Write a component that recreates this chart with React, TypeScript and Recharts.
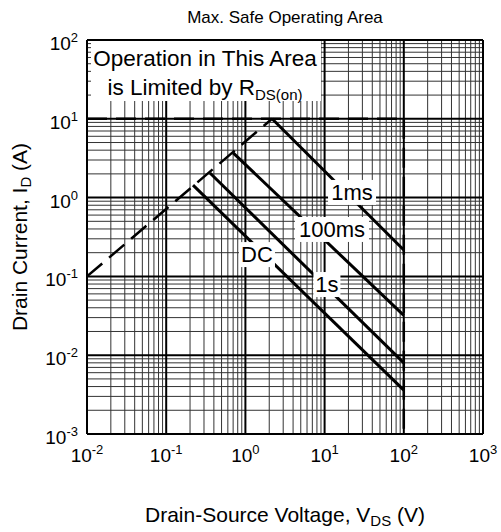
import React from "react";
import { ComposedChart, Line, Scatter, XAxis, YAxis, CartesianGrid, Label } from "recharts";

const FONT = '"Liberation Sans", Arial, Helvetica, sans-serif';

// axis decades
const xTicks = [0.01, 0.1, 1, 10, 100, 1000];
const yTicks = [0.001, 0.01, 0.1, 1, 10, 100];

// limit lines (V in volts, I in amps)
const rdsLimit = [{ v: 0.01, i: 0.1 }, { v: 2.17, i: 10 }];
const currentLimit = [{ v: 0.01, i: 10 }, { v: 100, i: 10 }];
const voltageLimit = [{ v: 100, i: 10 }, { v: 100, i: 0.001 }];

// pulse curves
const pulse1ms = [{ v: 2.17, i: 10 }, { v: 100, i: 0.216 }];
const pulse100ms = [{ v: 0.7, i: 3.7 }, { v: 100, i: 0.032 }];
const pulse1s = [{ v: 0.357, i: 2.05 }, { v: 100, i: 0.008 }];
const pulseDC = [{ v: 0.218, i: 1.44 }, { v: 100, i: 0.0036 }];

// curve labels, anchored in data units
const curveLabels = [
  { v: 22.2, i: 1.18, text: "1ms" },
  { v: 12.4, i: 0.4, text: "100ms" },
  { v: 1.4, i: 0.192, text: "DC" },
  { v: 10.7, i: 0.08, text: "1s" },
];
const noteAnchor = [{ v: 0.309, i: 41.6 }];

const labelBoxWidth: Record<string, number> = { "1ms": 48, "100ms": 74, DC: 36, "1s": 27 };

// minor grid lines at 2..9 of every decade
const minors = (decades: number[]) =>
  decades.slice(0, -1).flatMap((d) => [2, 3, 4, 5, 6, 7, 8, 9].map((m) => d * m));
const minorX = minors(xTicks);
const minorY = minors(yTicks);

const exp = (v: number) => String(Math.round(Math.log10(v)));

function XTick({ x, y, payload }: any) {
  return (
    <text x={x} y={y + 28} textAnchor="middle" fontSize={19} fontFamily={FONT} fill="#000">
      10
      <tspan dy={-8} fontSize={13}>
        {exp(payload.value)}
      </tspan>
    </text>
  );
}

function YTick({ x, y, payload }: any) {
  return (
    <text x={x - 9} y={y + 10} textAnchor="end" fontSize={19} fontFamily={FONT} fill="#000">
      10
      <tspan dy={-8} fontSize={13}>
        {exp(payload.value)}
      </tspan>
    </text>
  );
}

function CurveLabel({ cx, cy, payload }: any) {
  const w = labelBoxWidth[payload.text] ?? 40;
  return (
    <g>
      <rect x={cx - w / 2} y={cy - 12} width={w} height={25} fill="#fff" />
      <text x={cx} y={cy + 8} textAnchor="middle" fontSize={22} fontFamily={FONT} fill="#000">
        {payload.text}
      </text>
    </g>
  );
}

function NoteBox({ cx, cy }: any) {
  return (
    <g>
      <rect x={cx - 114} y={cy - 29} width={230} height={60} fill="#fff" />
      <text x={cx} y={cy - 4} textAnchor="middle" fontSize={22.5} fontFamily={FONT} fill="#000">
        Operation in This Area
      </text>
      <text x={cx} y={cy + 25} textAnchor="middle" fontSize={22.5} fontFamily={FONT} fill="#000">
        is Limited by R
        <tspan dy={5} fontSize={15}>DS(on)</tspan>
      </text>
    </g>
  );
}

const XTitle = ({ viewBox }: any) => (
  <text
    x={viewBox.x + viewBox.width / 2}
    y={viewBox.y + 88}
    textAnchor="middle"
    fontSize={21}
    fontFamily={FONT}
    fill="#000"
  >
    Drain-Source Voltage, V
    <tspan dy={4} fontSize={15}>DS</tspan>
    <tspan dy={-4}> (V)</tspan>
  </text>
);

const YTitle = ({ viewBox }: any) => {
  const cx = viewBox.x + 27;
  const cy = viewBox.y + viewBox.height / 2;
  return (
    <text
      x={cx}
      y={cy}
      transform={`rotate(-90 ${cx} ${cy})`}
      textAnchor="middle"
      fontSize={21}
      fontFamily={FONT}
      fill="#000"
    >
      Drain Current, I
      <tspan dy={4} fontSize={15}>D</tspan>
      <tspan dy={-4}> (A)</tspan>
    </text>
  );
};

const lineProps = {
  dataKey: "i",
  stroke: "#000",
  dot: false,
  activeDot: false,
  isAnimationActive: false,
  type: "linear" as const,
};

export default function App() {
  return (
    <div style={{ position: "absolute", left: 0, top: 0, width: 501, height: 532, background: "#fff" }}>
      <div
        style={{
          position: "absolute",
          left: 87,
          width: 396,
          top: 8,
          textAlign: "center",
          fontFamily: FONT,
          fontSize: 17,
          color: "#000",
        }}
      >
        Max. Safe Operating Area
      </div>
      <ComposedChart width={501} height={532} margin={{ top: 40, right: 18, left: 0, bottom: 0 }}>
        <CartesianGrid verticalValues={minorX} horizontalValues={minorY} stroke="#333" strokeWidth={1} />
        <CartesianGrid verticalValues={xTicks} horizontalValues={yTicks} stroke="#000" strokeWidth={2} />
        <XAxis
          type="number"
          dataKey="v"
          scale="log"
          domain={[0.01, 1000]}
          allowDataOverflow
          ticks={xTicks}
          tick={<XTick />}
          tickSize={0}
          tickMargin={0}
          tickLine={false}
          axisLine={{ stroke: "#000", strokeWidth: 2 }}
          height={98}
          interval={0}
        >
          <Label content={<XTitle />} />
        </XAxis>
        <YAxis
          type="number"
          scale="log"
          domain={[0.001, 100]}
          allowDataOverflow
          ticks={yTicks}
          tick={<YTick />}
          tickSize={0}
          tickMargin={0}
          tickLine={false}
          axisLine={{ stroke: "#000", strokeWidth: 2 }}
          width={87}
          interval={0}
        >
          <Label content={<YTitle />} />
        </YAxis>
        <Line {...lineProps} data={rdsLimit} strokeWidth={2.5} strokeDasharray="20 9" />
        <Line {...lineProps} data={currentLimit} strokeWidth={2.5} strokeDasharray="20 9" />
        <Line {...lineProps} data={voltageLimit} strokeWidth={2.5} strokeDasharray="20 9" />
        <Line {...lineProps} data={pulse1ms} strokeWidth={3} />
        <Line {...lineProps} data={pulse100ms} strokeWidth={3} />
        <Line {...lineProps} data={pulse1s} strokeWidth={3} />
        <Line {...lineProps} data={pulseDC} strokeWidth={3} />
        <Scatter data={curveLabels} dataKey="i" shape={<CurveLabel />} isAnimationActive={false} />
        <Scatter data={noteAnchor} dataKey="i" shape={<NoteBox />} isAnimationActive={false} />
      </ComposedChart>
    </div>
  );
}
